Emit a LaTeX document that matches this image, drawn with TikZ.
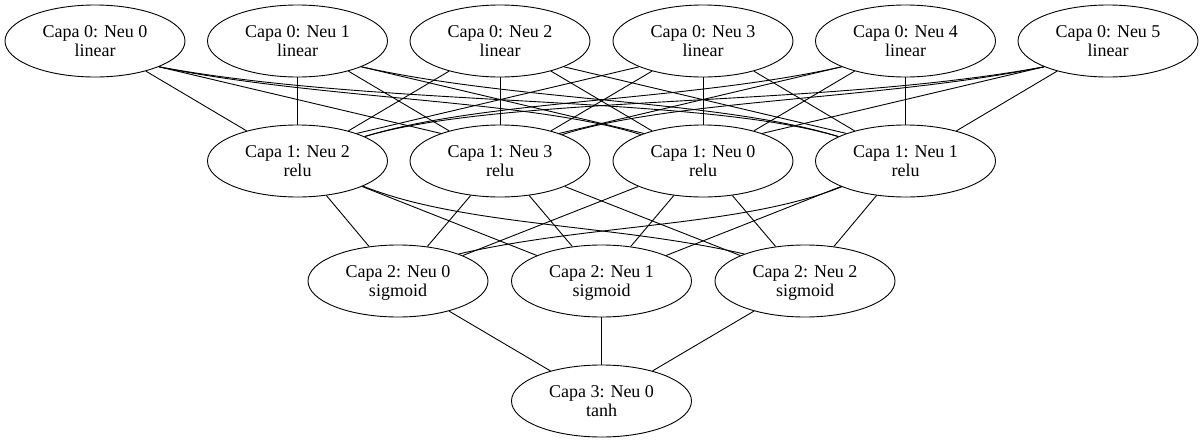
\documentclass[tikz,border=0pt]{standalone}
\usepackage{fontspec}
\setmainfont{Liberation Serif}
\usetikzlibrary{shapes.geometric}
\newcommand\twolines[2]{\rule{0pt}{16.3pt}#1\\#2\rule[-5pt]{0pt}{5pt}}
\begin{document}
\begin{tikzpicture}[x=1pt,y=-1pt,
  neuron/.style={draw,ellipse,minimum width=180pt,minimum height=72pt,inner sep=0pt,
    align=center,font=\fontsize{18}{18.7}\selectfont,line width=0.9pt},
  link/.style={line width=0.9pt}]
\useasboundingbox (0,0) rectangle (1203,442);
% layer 0
\node[neuron] (A0) at (95,41)    {\twolines{Capa 0: Neu 0}{linear}};
\node[neuron] (A1) at (297.5,41) {\twolines{Capa 0: Neu 1}{linear}};
\node[neuron] (A2) at (500,41)   {\twolines{Capa 0: Neu 2}{linear}};
\node[neuron] (A3) at (703,41)   {\twolines{Capa 0: Neu 3}{linear}};
\node[neuron] (A4) at (905.5,41) {\twolines{Capa 0: Neu 4}{linear}};
\node[neuron] (A5) at (1108,41)  {\twolines{Capa 0: Neu 5}{linear}};
% layer 1
\node[neuron] (B2) at (297.5,161) {\twolines{Capa 1: Neu 2}{relu}};
\node[neuron] (B3) at (500,161)   {\twolines{Capa 1: Neu 3}{relu}};
\node[neuron] (B0) at (703,161)   {\twolines{Capa 1: Neu 0}{relu}};
\node[neuron] (B1) at (905.5,161) {\twolines{Capa 1: Neu 1}{relu}};
% layer 2
\node[neuron] (C0) at (398,281)   {\twolines{Capa 2: Neu 0}{sigmoid}};
\node[neuron] (C1) at (601.5,281) {\twolines{Capa 2: Neu 1}{sigmoid}};
\node[neuron] (C2) at (805,281)   {\twolines{Capa 2: Neu 2}{sigmoid}};
% layer 3
\node[neuron] (D0) at (601.5,401) {\twolines{Capa 3: Neu 0}{tanh}};

% layer 0 -> layer 1
\draw[link] (A0) -- (B2);
\draw[link] (A0.-22) -- (B3.155);
\draw[link] (A0.-22) .. controls +(162,33) and +(-110,-35) .. (B0.157);
\draw[link] (A0.-22) .. controls +(222,41) and +(-140,-42) .. (B1.160);

\draw[link] (A1) -- (B2);
\draw[link] (A1) -- (B3);
\draw[link] (A1.-22) -- (B0.155);
\draw[link] (A1.-22) .. controls +(157,35) and +(-120,-37) .. (B1.160);

\draw[link] (A2) -- (B2);
\draw[link] (A2) -- (B3);
\draw[link] (A2) -- (B0);
\draw[link] (A2.-22) -- (B1.155);

\draw[link] (A3.-158) -- (B2.25);
\draw[link] (A3) -- (B3);
\draw[link] (A3) -- (B0);
\draw[link] (A3) -- (B1);

\draw[link] (A4.-158) .. controls +(-157,35) and +(120,-37) .. (B2.20);
\draw[link] (A4.-158) -- (B3.25);
\draw[link] (A4) -- (B0);
\draw[link] (A4) -- (B1);

\draw[link] (A5.-158) .. controls +(-222,41) and +(140,-42) .. (B2.20);
\draw[link] (A5.-158) .. controls +(-162,33) and +(110,-35) .. (B3.23);
\draw[link] (A5.-158) -- (B0.25);
\draw[link] (A5) -- (B1);

% layer 1 -> layer 2
\draw[link] (B2) -- (C0);
\draw[link] (B2) -- (C1);
\draw[link] (B2.-21.5) .. controls +(100,40) and +(-130,-30) .. (C2.156);
\draw[link] (B3) -- (C0);
\draw[link] (B3) -- (C1);
\draw[link] (B3) -- (C2);
\draw[link] (B0) -- (C0);
\draw[link] (B0) -- (C1);
\draw[link] (B0) -- (C2);
\draw[link] (B1.-158.5) .. controls +(-100,40) and +(130,-30) .. (C0.24);
\draw[link] (B1) -- (C1);
\draw[link] (B1) -- (C2);

% layer 2 -> layer 3
\draw[link] (C0) -- (D0);
\draw[link] (C1) -- (D0);
\draw[link] (C2) -- (D0);
\end{tikzpicture}
\end{document}
